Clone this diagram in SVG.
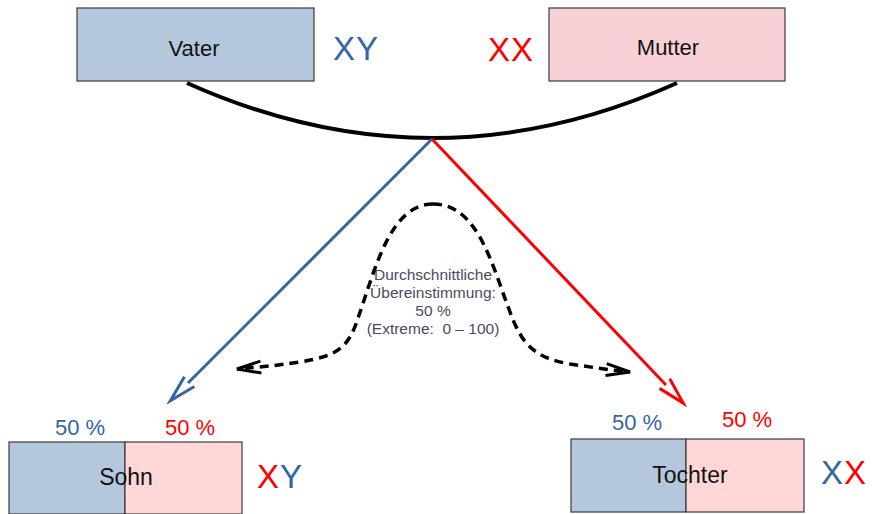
<svg xmlns="http://www.w3.org/2000/svg" width="872" height="514" viewBox="0 0 872 514">
<style>
  text { font-family: "Liberation Sans", Arial, sans-serif; }
  .box { stroke: #3a3a3a; stroke-width: 1.2; }
  .blue { fill: #b4c7dc; }
  .pink { fill: #f8d1d6; }
  .lpink { fill: #ffd7d7; }
  .lbl { font-size: 22px; fill: #111; text-anchor: middle; }
  .chr { font-size: 33px; letter-spacing: 1px; }
  .pct { font-size: 22px; text-anchor: middle; }
  .cb { fill: #3465a4; }
  .cr { fill: #ff0000; }
  .mid { font-size: 15.5px; fill: #4a4a62; text-anchor: middle; white-space: pre; }
</style>
<defs>
  <marker id="arrBlue" markerUnits="userSpaceOnUse" viewBox="-6 -12 36 24" refX="0" refY="0" markerWidth="36" markerHeight="24" orient="auto">
    <polyline points="-2,-7 25,0 -2,7" fill="none" stroke="#3465a4" stroke-width="3"/>
  </marker>
  <marker id="arrRed" markerUnits="userSpaceOnUse" viewBox="-6 -12 36 24" refX="0" refY="0" markerWidth="36" markerHeight="24" orient="auto">
    <polyline points="-2,-7 25,0 -2,7" fill="none" stroke="#ff0000" stroke-width="3"/>
  </marker>
  <marker id="arrBlack" markerUnits="userSpaceOnUse" viewBox="-30 -12 34 24" refX="0" refY="0" markerWidth="34" markerHeight="24" orient="auto">
    <polyline points="-24,-6 0,0 -24,6" fill="none" stroke="#000" stroke-width="3"/>
  </marker>
</defs>

<g id="vater">
  <rect class="box blue" x="77" y="8" width="237" height="73"/>
  <text class="lbl" x="194" y="56">Vater</text>
  <text class="chr cb" x="333" y="60">XY</text>
</g>

<g id="mutter">
  <rect class="box pink" x="549" y="8" width="236" height="73"/>
  <text class="lbl" x="668" y="55">Mutter</text>
  <text class="chr cr" x="488" y="61">XX</text>
</g>

<g id="sohn">
  <rect class="box blue" x="9" y="442" width="116" height="72"/>
  <rect class="box lpink" x="125" y="442" width="117" height="72"/>
  <text class="lbl" x="126" y="485" style="font-size:23px">Sohn</text>
  <text class="pct cb" x="80" y="435">50 %</text>
  <text class="pct cr" x="190" y="435">50 %</text>
  <text class="chr" x="257" y="488"><tspan class="cr">X</tspan><tspan class="cb">Y</tspan></text>
</g>

<g id="tochter">
  <rect class="box blue" x="571" y="439" width="115" height="73"/>
  <rect class="box lpink" x="686" y="439" width="118" height="73"/>
  <text class="lbl" x="690" y="483" style="font-size:23px">Tochter</text>
  <text class="pct cb" x="637" y="430">50 %</text>
  <text class="pct cr" x="747" y="427">50 %</text>
  <text class="chr" x="821" y="484"><tspan class="cb">X</tspan><tspan class="cr">X</tspan></text>
</g>

<g id="verteilung">
  <text class="mid" x="433" y="280">Durchschnittliche</text>
  <text class="mid" x="433" y="298">Übereinstimmung:</text>
  <text class="mid" x="433" y="316">50 %</text>
  <text class="mid" x="433" y="334">(Extreme:  0 – 100)</text>
</g>

<g id="connectors" fill="none">
  <path d="M187,83 Q432,193 677,83" stroke="#000" stroke-width="4"/>
  <path d="M432,139 L188,383" stroke="#3465a4" stroke-width="3" marker-end="url(#arrBlue)"/>
  <path d="M432,139 L666,385" stroke="#ff0000" stroke-width="3" marker-end="url(#arrRed)"/>
  <path d="M433,204 C390,204 375,270 358,318 C348,350 335,356 300,362 C280,365 262,367 237,369" stroke="#000" stroke-width="3.5" stroke-dasharray="9,6" marker-end="url(#arrBlack)"/>
  <path d="M433,204 C478,204 492,265 510,312 C522,345 535,358 570,364 C590,367 610,370 630,372" stroke="#000" stroke-width="3.5" stroke-dasharray="9,6" marker-end="url(#arrBlack)"/>
</g>
</svg>
